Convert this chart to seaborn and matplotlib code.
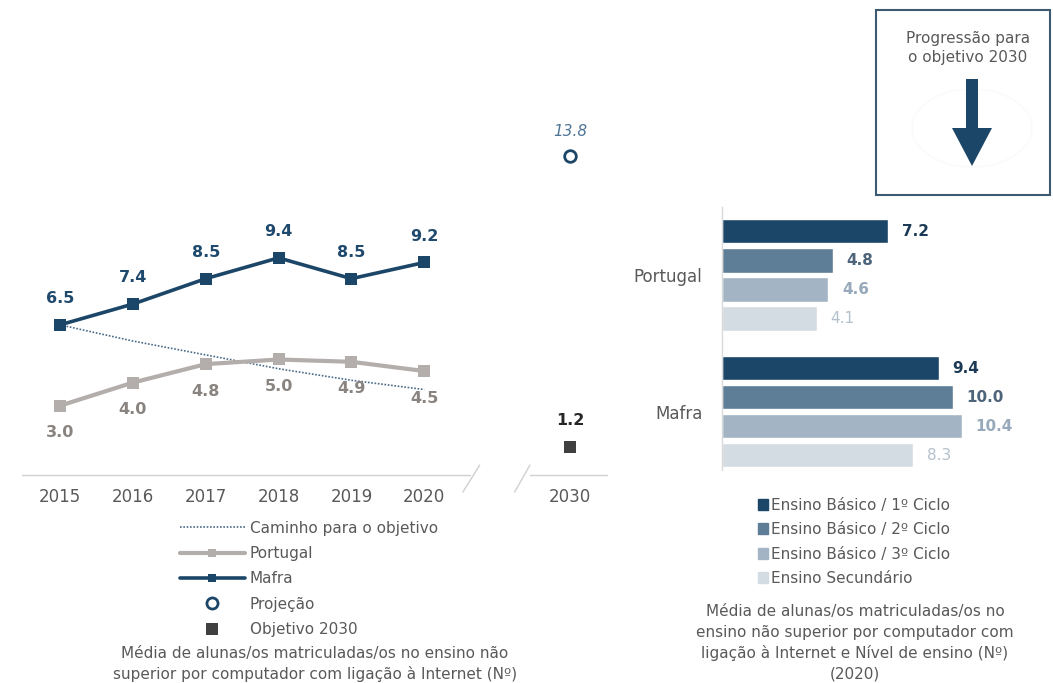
import numpy as np
import pandas as pd
import seaborn as sns
import matplotlib
matplotlib.use("Agg")
import matplotlib.pyplot as plt
from matplotlib.lines import Line2D
from matplotlib.patches import Rectangle, Polygon, Circle

# ---- data: left chart (line) ----
years = ['2015', '2016', '2017', '2018', '2019', '2020']
portugal = [3.0, 4.0, 4.8, 5.0, 4.9, 4.5]
mafra = [6.5, 7.4, 8.5, 9.4, 8.5, 9.2]
caminho = [6.5, 5.8, 5.2, 4.6, 4.1, 3.7]   # dotted path towards the target
target_year = '2030'
projecao = 13.8
objetivo = 1.2

# ---- data: right chart (bars, 2020) ----
regioes = ['Portugal', 'Mafra']
niveis = ['Ensino Básico / 1º Ciclo', 'Ensino Básico / 2º Ciclo',
          'Ensino Básico / 3º Ciclo', 'Ensino Secundário']
portugal_niveis = [7.2, 4.8, 4.6, 4.1]
mafra_niveis = [9.4, 10.0, 10.4, 8.3]

# colours
NAVY = '#1c4668'
GREY_LINE = '#b3adab'
TXT = '#595959'
bar_cols = ['#1c4668', '#5e7d96', '#a3b5c4', '#d4dce3']
lab_cols = ['#1c3a55', '#4d647a', '#97a9ba', '#b3c0cc']

sns.set_theme(style='white')
plt.rcParams['font.family'] = ['DejaVu Sans']

W, H = 1053, 683
fig = plt.figure(figsize=(W / 100, H / 100), dpi=100)


def fx(px):
    return px / W


def fy(py):
    return 1 - py / H


# ================= left chart =================
ax = fig.add_axes([fx(16.3), fy(478), fx(613.7) - fx(16.3), fy(128.5) - fy(478)])
pos = {y: i for i, y in enumerate(years)}
pos[target_year] = len(years) + 1

df = pd.DataFrame({'x': [pos[y] for y in years], 'Portugal': portugal,
                   'Mafra': mafra, 'Caminho': caminho})

sns.lineplot(data=df, x='x', y='Caminho', ax=ax, color='#4a6a88', lw=1.2,
             linestyle=(0, (1, 1.0)), zorder=2)
sns.lineplot(data=df, x='x', y='Portugal', ax=ax, color=GREY_LINE, lw=3,
             marker='s', markersize=8, markeredgewidth=0, zorder=3)
sns.lineplot(data=df, x='x', y='Mafra', ax=ax, color=NAVY, lw=2.6,
             marker='s', markersize=8, markeredgewidth=0, zorder=4)
sns.scatterplot(x=[pos[target_year]], y=[projecao], ax=ax, marker='o', s=70,
                facecolor='white', edgecolor=NAVY, linewidth=2, zorder=5)
sns.scatterplot(x=[pos[target_year]], y=[objetivo], ax=ax, marker='s', s=65,
                color='#404040', linewidth=0, zorder=5)

for xv, v in zip(df['x'], mafra):
    ax.annotate(f'{v:.1f}', (xv, v), xytext=(0, 19), textcoords='offset points',
                ha='center', va='center', fontsize=11.5, fontweight='bold', color='#1f4a6e')
for xv, v in zip(df['x'], portugal):
    ax.annotate(f'{v:.1f}', (xv, v), xytext=(0, -19.5), textcoords='offset points',
                ha='center', va='center', fontsize=11.5, fontweight='bold', color='#8a8480')
ax.annotate(f'{projecao:.1f}', (pos[target_year], projecao), xytext=(0, 18),
            textcoords='offset points', ha='center', va='center', fontsize=11,
            style='italic', color='#4f7597')
ax.annotate(f'{objetivo:.1f}', (pos[target_year], objetivo), xytext=(0, 19),
            textcoords='offset points', ha='center', va='center', fontsize=11.5,
            fontweight='bold', color='#262626')

ax.set_xlim(-0.6, 7.6)
ax.set_ylim(-0.13, 15)
ax.set_xticks([pos[y] for y in years] + [pos[target_year]])
ax.set_xticklabels(years + [target_year], fontsize=12, color=TXT)
ax.tick_params(axis='x', length=0, pad=7)
ax.set_yticks([])
ax.set_xlabel('')
ax.set_ylabel('')
for s in ax.spines.values():
    s.set_visible(False)

# broken x axis
ax.plot([-0.52, 5.63], [0, 0], color='#d0d0d0', lw=1, clip_on=False)
ax.plot([6.45, 7.51], [0, 0], color='#d0d0d0', lw=1, clip_on=False)
ax.plot([5.53, 5.76], [-0.74, 0.43], color='#d0d0d0', lw=1, clip_on=False)
ax.plot([6.24, 6.45], [-0.74, 0.43], color='#d0d0d0', lw=1, clip_on=False)

left_handles = [
    Line2D([], [], color='#4a6a88', lw=1.2, linestyle=(0, (1, 1.0))),
    Line2D([], [], color=GREY_LINE, lw=3, marker='s', markersize=6, markeredgewidth=0),
    Line2D([], [], color=NAVY, lw=2.6, marker='s', markersize=6, markeredgewidth=0),
    Line2D([], [], color='none', marker='o', markersize=8, markerfacecolor='white',
           markeredgecolor=NAVY, markeredgewidth=2),
    Line2D([], [], color='none', marker='s', markersize=8, markerfacecolor='#404040',
           markeredgewidth=0),
]
left_labels = ['Caminho para o objetivo', 'Portugal', 'Mafra', 'Projeção', 'Objetivo 2030']
fig.legend(left_handles, left_labels, loc='upper left', bbox_to_anchor=(fx(172), fy(513)),
           frameon=False, fontsize=11, handlelength=4.3, handletextpad=0.3,
           labelspacing=0.68, labelcolor=TXT, borderpad=0)

fig.text(fx(315), fy(664), 'Média de alunas/os matriculadas/os no ensino não\n'
         'superior por computador com ligação à Internet (Nº)',
         ha='center', va='center', fontsize=11, color=TXT, linespacing=1.45)

# ================= right chart =================
bx = fig.add_axes([fx(722), fy(470), fx(1044.7) - fx(722), fy(207) - fy(470)])
bdf = pd.DataFrame({
    'regiao': np.repeat(regioes, len(niveis)),
    'nivel': niveis * len(regioes),
    'valor': portugal_niveis + mafra_niveis,
})
sns.barplot(data=bdf, y='regiao', x='valor', hue='nivel', orient='h', ax=bx,
            palette=bar_cols, width=0.847, gap=0.14, legend=False, saturation=1)
for i, cont in enumerate(bx.containers):
    bx.bar_label(cont, fmt='%.1f', padding=10, fontsize=11, color=lab_cols[i],
                 fontweight='bold' if i < 3 else 'normal')
bx.set_xlim(0, 14)
bx.set_ylim(1.427, -0.493)
bx.set_xticks([])
bx.set_xlabel('')
bx.set_ylabel('')
bx.tick_params(axis='y', length=0, pad=14, labelsize=12, labelcolor=TXT)
for k, s in bx.spines.items():
    s.set_visible(k == 'left')
bx.spines['left'].set_color('#d9d9d9')
bx.spines['left'].set_linewidth(1)

right_handles = [Rectangle((0, 0), 1, 1, color=c) for c in bar_cols]
fig.legend(right_handles, niveis, loc='upper left', bbox_to_anchor=(fx(750), fy(490)),
           frameon=False, fontsize=11, handlelength=0.7, handleheight=0.7,
           handletextpad=0.2, labelspacing=0.62, labelcolor=TXT, borderpad=0)

fig.text(fx(855), fy(643), 'Média de alunas/os matriculadas/os no\n'
         'ensino não superior por computador com\n'
         'ligação à Internet e Nível de ensino (Nº)\n(2020)',
         ha='center', va='center', fontsize=11, color=TXT, linespacing=1.45)

# ================= progress box =================
fig.add_artist(Rectangle((fx(876), fy(195)), fx(1050) - fx(876), fy(10) - fy(195),
                         transform=fig.transFigure, fill=False, edgecolor='#3d5a73', lw=1.5))
fig.add_artist(Circle((fx(972), fy(128)), 0.057, transform=fig.transFigure, fill=False,
                      edgecolor='#fafafa', lw=1))
fig.text(fx(968), fy(48), 'Progressão para\no objetivo 2030', ha='center', va='center',
         fontsize=11, color=TXT, linespacing=1.3)
arrow = [(966, 79), (978, 79), (978, 128), (992, 128), (972, 166), (952, 128), (966, 128)]
fig.add_artist(Polygon([(fx(a), fy(b)) for a, b in arrow], closed=True,
                       transform=fig.transFigure, color=NAVY, lw=0))

fig.savefig('out.png', dpi=100)
